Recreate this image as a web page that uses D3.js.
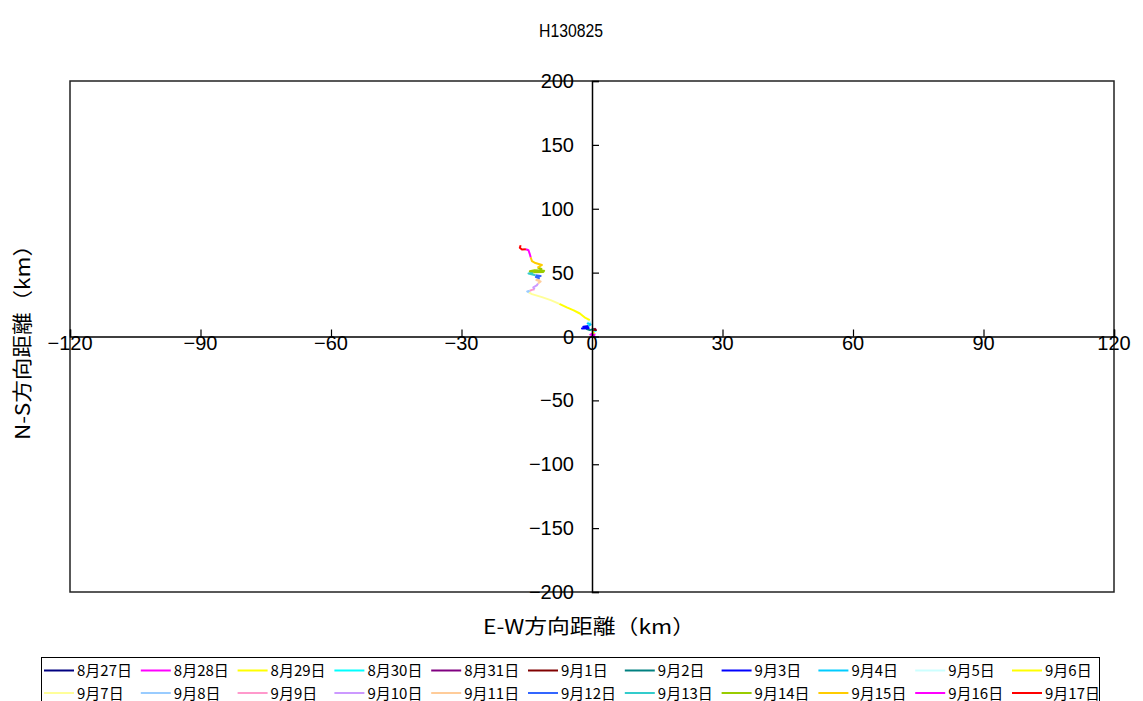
<!DOCTYPE html>
<html>
<head>
<meta charset="utf-8">
<script src="https://cdn.jsdelivr.net/npm/d3@7"></script>
<style>
  html, body { margin: 0; padding: 0; background: #fff; }
  svg { display: block; }
</style>
</head>
<body>
<svg id="chart" width="1143" height="701"></svg>
<script>
// ---------------- data ----------------
const chartTitle = "H130825";
const xAxisTitle = "E-W方向距離（km）";
const yAxisTitle = "N-S方向距離（km）";

const xTicks = [-120, -90, -60, -30, 0, 30, 60, 90, 120];
const yTicks = [200, 150, 100, 50, 0, -50, -100, -150, -200];

const dayLabels = [
  "8月27日", "8月28日", "8月29日", "8月30日", "8月31日", "9月1日", "9月2日", "9月3日", "9月4日", "9月5日", "9月6日",
  "9月7日", "9月8日", "9月9日", "9月10日", "9月11日", "9月12日", "9月13日", "9月14日", "9月15日", "9月16日", "9月17日"
];

const dayColors = [
  "#000080", "#ff00ff", "#ffff00", "#00ffff", "#800080", "#800000", "#008080", "#0000ff", "#00ccff", "#ccffff", "#ffff00",
  "#ffff99", "#99ccff", "#ff99cc", "#cc99ff", "#ffcc99", "#3366ff", "#33cccc", "#99cc00", "#ffcc00", "#ff00ff", "#ff0000"
];

// one track per day: [E-W km, N-S km]
const track0827 = [[0, 0], [0.4, 1.2], [0.1, 2.2]];
const track0828 = [[0.1, 2.2], [-0.4, 1.5], [0.5, 0.6], [0.6, 2.5]];
const track0829 = [[0.6, 2.5], [0.2, 3.3], [0.5, 4.0]];
const track0830 = [[0.5, 4.0], [0.9, 4.6], [0.3, 5.0]];
const track0831 = [[0.3, 5.0], [0.8, 5.6], [0.6, 6.2]];
const track0901 = [[0.6, 6.2], [0.2, 5.4], [0.9, 5.0], [0.4, 6.0]];
const track0902 = [[0.4, 6.0], [-0.5, 5.0], [-1.2, 5.8], [-0.6, 6.4]];
const track0903 = [[-0.6, 6.4], [-2.3, 6.2], [-0.9, 7.4], [-2.0, 7.6], [-0.8, 8.2]];
const track0904 = [[-0.8, 8.2], [-0.3, 9.5], [-1.0, 10.2], [-0.3, 11.0]];
const track0905 = [[-0.3, 11.0], [-0.9, 12.0], [-0.5, 12.8]];
const track0906 = [[-0.5, 12.8], [-1.5, 14.5], [-2.8, 18.0], [-4.2, 20.5], [-5.8, 22.8], [-7.5, 25.5]];
const track0907 = [[-7.5, 25.5], [-9.5, 28.5], [-11.5, 30.8], [-13.8, 33.2], [-14.5, 34.5]];
const track0908 = [[-14.5, 34.5], [-14.9, 35.3], [-14.3, 35.8]];
const track0909 = [[-14.3, 35.8], [-13.8, 36.5], [-13.2, 37.0]];
const track0910 = [[-13.2, 37.0], [-13.5, 38.5], [-12.7, 40.0], [-12.4, 41.5]];
const track0911 = [[-12.4, 41.5], [-11.8, 43.0], [-12.8, 44.2], [-12.0, 45.5]];
const track0912 = [[-12.0, 45.5], [-12.9, 46.5], [-11.8, 47.3], [-13.0, 48.0]];
const track0913 = [[-13.0, 48.0], [-14.6, 49.3], [-13.5, 50.2]];
const track0914 = [[-13.5, 50.2], [-11.2, 50.5], [-11.0, 51.5], [-13.2, 51.8], [-14.3, 51.0], [-12.5, 50.6], [-11.6, 52.8], [-12.5, 54.0]];
const track0915 = [[-12.5, 54.0], [-11.5, 56.0], [-13.0, 57.5], [-13.8, 59.0], [-14.1, 62.0]];
const track0916 = [[-14.1, 62.0], [-14.3, 64.5], [-14.6, 67.5], [-15.2, 68.3]];
const track0917 = [[-15.2, 68.3], [-16.1, 68.1], [-16.6, 69.5], [-16.4, 71.4]];

const dayTracks = [
  track0827, track0828, track0829, track0830, track0831, track0901, track0902, track0903, track0904, track0905, track0906,
  track0907, track0908, track0909, track0910, track0911, track0912, track0913, track0914, track0915, track0916, track0917
];

// ---------------- drawing ----------------
const svg = d3.select("#chart");
const plot = { left: 70, right: 1114, top: 81, bottom: 592 };

const x = d3.scaleLinear().domain([-120, 120]).range([plot.left, plot.right]);
const y = d3.scaleLinear().domain([-200, 200]).range([plot.bottom, plot.top]);

const numFont = "'Liberation Sans', Arial, sans-serif";
const jpFont = "'Noto Sans CJK JP', 'Noto Sans', sans-serif";
const fmt = v => (v < 0 ? "\u2212" + Math.abs(v) : String(v));

// title
svg.append("text")
  .attr("x", 571).attr("y", 37)
  .attr("text-anchor", "middle")
  .attr("textLength", 64).attr("lengthAdjust", "spacingAndGlyphs")
  .style("font-family", numFont).style("font-size", "19px")
  .text(chartTitle);

// plot frame
svg.append("rect")
  .attr("x", plot.left).attr("y", plot.top)
  .attr("width", plot.right - plot.left).attr("height", plot.bottom - plot.top)
  .attr("fill", "none").attr("stroke", "#222").attr("stroke-width", 1.5);

// trajectories
const line = d3.line().x(d => x(d[0])).y(d => y(d[1]));
svg.append("g").selectAll("path")
  .data(dayTracks)
  .join("path")
  .attr("d", line)
  .attr("fill", "none")
  .attr("stroke", (d, i) => dayColors[i])
  .attr("stroke-width", 2)
  .attr("stroke-linejoin", "round");

// x axis (through y = 0), ticks upward
const xAxis = d3.axisTop(x).tickValues(xTicks).tickSize(7).tickFormat("");
const gx = svg.append("g").attr("transform", `translate(0,${y(0)})`).call(xAxis);
gx.select(".domain").attr("stroke", "#000").attr("stroke-width", 1.5);
gx.selectAll(".tick line").attr("stroke", "#000").attr("stroke-width", 1.2);
svg.append("g").selectAll("text")
  .data(xTicks)
  .join("text")
  .attr("x", d => x(d))
  .attr("y", y(0) + 13)
  .attr("text-anchor", "middle")
  .style("font-family", numFont).style("font-size", "20px")
  .text(fmt);

// y axis (through x = 0), ticks to the right
const yAxis = d3.axisRight(y).tickValues(yTicks).tickSize(7).tickFormat("");
const gy = svg.append("g").attr("transform", `translate(${x(0)},0)`).call(yAxis);
gy.select(".domain").attr("stroke", "#000").attr("stroke-width", 1.5);
gy.selectAll(".tick line").attr("stroke", "#000").attr("stroke-width", 1.2);
svg.append("g").selectAll("text")
  .data(yTicks)
  .join("text")
  .attr("x", x(0) - 18)
  .attr("y", d => y(d) + 7)
  .attr("text-anchor", "end")
  .style("font-family", numFont).style("font-size", "20px")
  .text(fmt);

// axis titles
svg.append("text")
  .attr("x", 589).attr("y", 634)
  .attr("text-anchor", "middle")
  .attr("textLength", 212).attr("lengthAdjust", "spacingAndGlyphs")
  .style("font-family", jpFont).style("font-size", "20px")
  .text(xAxisTitle);

svg.append("text")
  .attr("transform", "translate(30,337) rotate(-90)")
  .attr("text-anchor", "middle")
  .attr("textLength", 206).attr("lengthAdjust", "spacingAndGlyphs")
  .style("font-family", jpFont).style("font-size", "20px")
  .text(yAxisTitle);

// legend
svg.append("rect")
  .attr("x", 41.5).attr("y", 657.5)
  .attr("width", 1058).attr("height", 50)
  .attr("fill", "none").attr("stroke", "#000").attr("stroke-width", 1);

const perRow = 11, colW = 96.8;
const leg = svg.append("g").selectAll("g")
  .data(dayLabels)
  .join("g")
  .attr("transform", (d, i) => `translate(${44 + (i % perRow) * colW},${670.5 + Math.floor(i / perRow) * 22.5})`);
leg.append("line")
  .attr("x1", 0).attr("x2", 30).attr("y1", 0).attr("y2", 0)
  .attr("stroke", (d, i) => dayColors[i]).attr("stroke-width", 2);
leg.append("text")
  .attr("x", 33).attr("y", 5.5)
  .style("font-family", jpFont).style("font-size", "15px")
  .text(d => d);
</script>
</body>
</html>
